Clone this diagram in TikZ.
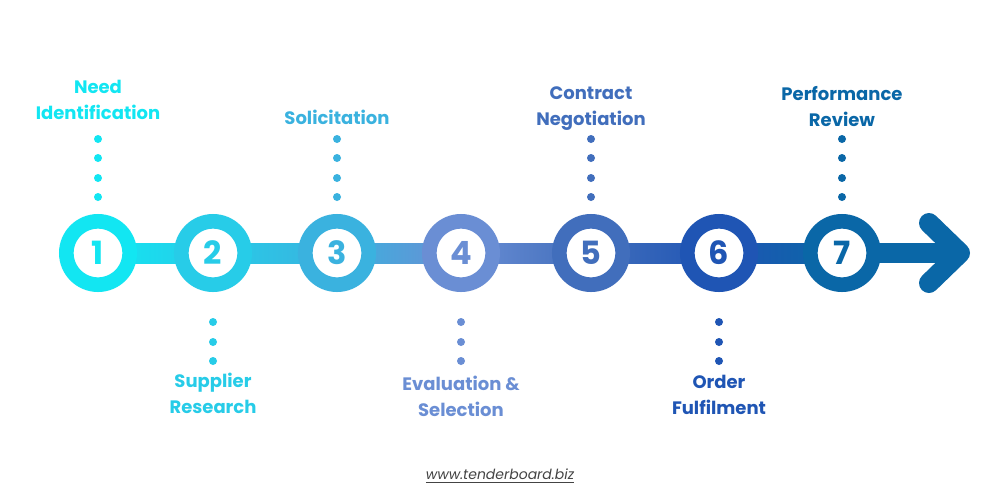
\documentclass[tikz,border=0pt]{standalone}
\usepackage{fontspec}
\setmainfont{Poppins}
\begin{document}
\begin{tikzpicture}[x=0.75pt,y=-0.75pt]
\definecolor{c1}{HTML}{12E6F2}\definecolor{c2}{HTML}{27CCE8}\definecolor{c3}{HTML}{3AB2DF}
\definecolor{c4}{HTML}{6A8ED4}\definecolor{c5}{HTML}{416EBC}\definecolor{c6}{HTML}{1F55B4}
\definecolor{c7}{HTML}{0A67A7}\definecolor{foot}{HTML}{444444}
\tikzset{ring/.style={circle,minimum size=47.5pt,line width=11pt,fill=white,inner sep=0pt,font=\fontsize{24}{24}\selectfont\bfseries},
 lbl/.style={align=center,font=\fontsize{13.5}{19.5}\selectfont\bfseries},
 dotc/.style={circle,inner sep=0pt,minimum size=6pt}}
\useasboundingbox (0,0) rectangle (1000,500);
\fill[white] (0,0) rectangle (1000,500);
\foreach \a/\b/\ca/\cb in {98/213/c1/c2,213/337/c2/c3,337/461/c3/c4,461/591/c4/c5,591/719/c5/c6,719/842/c6/c7}
  \shade[left color=\ca,right color=\cb] (\a,243) rectangle (\b,263);
\fill[c7] (842,243) rectangle (955,263);
\draw[c7,line width=15pt,line cap=round,line join=round] (929,223) -- (960,253) -- (929,283);
\foreach \i/\x/\c in {1/98/c1,2/213/c2,3/337/c3,4/461/c4,5/591/c5,6/719/c6,7/842/c7}
  \node[ring,draw=\c,text=\c] (n\i) at (\x,253) {\i};
\foreach \i/\c in {1/c1,3/c3,5/c5,7/c7}{
  \foreach \k/\yy in {a/139,b/158,c/178,d/197}
   \node[dotc,fill=\c] (d\i\k) at (n\i.center |- 0,\yy) {};}
\foreach \i/\c in {2/c2,4/c4,6/c6}{
  \foreach \k/\yy in {a/322,b/342,c/361}
   \node[dotc,fill=\c] (d\i\k) at (n\i.center |- 0,\yy) {};}
\node[lbl,text=c1] (l1) at (98,100) {Need\\Identification};
\node[lbl,text=c3] (l3) at (337,117) {Solicitation};
\node[lbl,text=c5] (l5) at (591,109) {Contract\\Negotiation};
\node[lbl,text=c7] (l7) at (842,107) {Performance\\Review};
\node[lbl,text=c2] (l2) at (213,393) {Supplier\\Research};
\node[lbl,text=c4] (l4) at (461,396) {Evaluation \&\\Selection};
\node[lbl,text=c6] (l6) at (719,395) {Order\\Fulfilment};
\node[text=foot,font=\fontsize{10.5}{12}\selectfont\itshape] (ft) at (500,476) {\underline{www.tenderboard.biz}};
\end{tikzpicture}
\end{document}
